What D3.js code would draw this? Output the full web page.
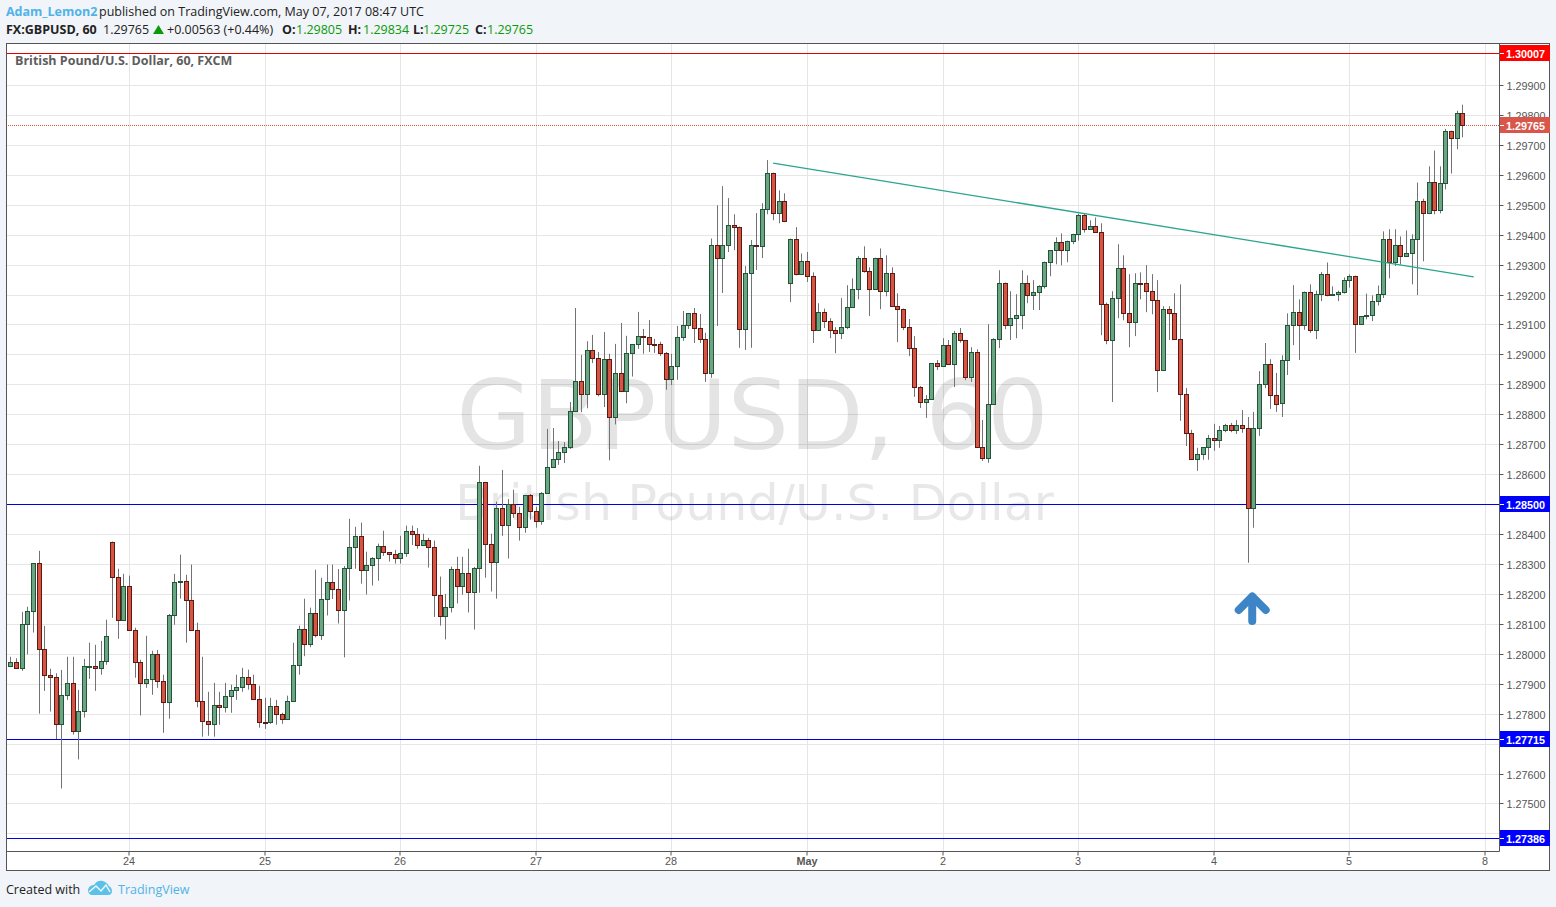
<!DOCTYPE html>
<html>
<head>
<meta charset="utf-8">
<title>GBPUSD, 60</title>
<script src="https://cdn.jsdelivr.net/npm/d3@7"></script>
<style>
  html, body { margin: 0; padding: 0; background: #f1f4f8; overflow: hidden; }
  svg { display: block; }
  text { font-family: "Open Sans", "Noto Sans", sans-serif; }
  .axis text { font-family: "Liberation Sans", Arial, sans-serif; font-size: 10.8px; fill: #555; }
  .axis path { display: none; }
  .axis line { stroke: #555; }
  .tag text { font-family: "Liberation Sans", Arial, sans-serif; font-size: 10.8px; font-weight: bold; fill: #fff; }
</style>
</head>
<body>
<div id="chart"></div>
<script>
// hourly bars, oldest first
const opens = [
  1.27958,1.27972,1.27952,1.28099,1.28142,1.28303,1.28015,1.27928,1.27922,1.27765,
  1.27862,1.27902,1.27741,1.27808,1.27959,1.27959,1.27952,1.27975,1.28375,1.28256,
  1.28112,1.28226,1.28079,1.27972,1.27902,1.27915,1.28000,1.27909,1.27839,1.28129,
  1.28241,1.28243,1.28179,1.28079,1.27842,1.27775,1.27765,1.27828,1.27822,1.27859,
  1.27879,1.27889,1.27922,1.27899,1.27849,1.27772,1.27772,1.27825,1.27798,1.27782,
  1.27842,1.27962,1.28083,1.28033,1.28137,1.28063,1.28183,1.28240,1.28217,1.28147,
  1.28287,1.28357,1.28393,1.28280,1.28297,1.28320,1.28360,1.28340,1.28333,1.28320,
  1.28337,1.28410,1.28400,1.28363,1.28380,1.28357,1.28197,1.28127,1.28157,1.28283,
  1.28227,1.28270,1.28207,1.28287,1.28573,1.28367,1.28307,1.28487,1.28430,1.28500,
  1.28470,1.28423,1.28530,1.28477,1.28443,1.28537,1.28624,1.28651,1.28674,1.28691,
  1.28811,1.28911,1.28867,1.29014,1.28987,1.28867,1.28984,1.28791,1.28937,1.28877,
  1.29004,1.29034,1.29061,1.29057,1.29034,1.29034,1.29004,1.28917,1.28961,1.29057,
  1.29097,1.29137,1.29087,1.29051,1.28937,1.29367,1.29321,1.29364,1.29431,1.29427,
  1.29084,1.29271,1.29367,1.29361,1.29487,1.29607,1.29471,1.29511,1.29237,1.29384,
  1.29267,1.29311,1.29263,1.29080,1.29143,1.29113,1.29080,1.29073,1.29090,1.29157,
  1.29220,1.29323,1.29280,1.29220,1.29323,1.29213,1.29273,1.29160,1.29153,1.29093,
  1.29020,1.28890,1.28840,1.28850,1.28970,1.28960,1.29033,1.28967,1.29073,1.29047,
  1.28923,1.29007,1.28690,1.28653,1.28833,1.29050,1.29240,1.29097,1.29120,1.29130,
  1.29240,1.29197,1.29210,1.29227,1.29310,1.29347,1.29377,1.29347,1.29380,1.29403,
  1.29467,1.29420,1.29430,1.29410,1.29167,1.29047,1.29190,1.29290,1.29137,1.29107,
  1.29240,1.29237,1.29213,1.29180,1.28947,1.29150,1.29137,1.29053,1.28867,1.28737,
  1.28650,1.28667,1.28690,1.28720,1.28713,1.28747,1.28763,1.28747,1.28763,1.28753,
  1.28487,1.28753,1.28900,1.28967,1.28863,1.28837,1.28980,1.29097,1.29140,1.29097,
  1.29207,1.29080,1.29203,1.29270,1.29200,1.29203,1.29210,1.29250,1.29263,1.29103,
  1.29127,1.29130,1.29177,1.29203,1.29387,1.29310,1.29367,1.29327,1.29337,1.29387,
  1.29513,1.29473,1.29577,1.29483,1.29573,1.29747,1.29723,1.29805
];
const highs = [
  1.27990,1.27985,1.28140,1.28157,1.28303,1.28344,1.28093,1.27950,1.27935,1.27946,
  1.27990,1.27990,1.27879,1.27983,1.28037,1.28030,1.28043,1.28114,1.28375,1.28284,
  1.28267,1.28261,1.28087,1.27980,1.28060,1.28010,1.28013,1.27930,1.28133,1.28267,
  1.28331,1.28264,1.28298,1.28104,1.27990,1.27873,1.27903,1.27873,1.27903,1.27897,
  1.27930,1.27953,1.27947,1.27930,1.27893,1.27853,1.27853,1.27846,1.27803,1.27860,
  1.28037,1.28094,1.28184,1.28154,1.28281,1.28254,1.28298,1.28298,1.28283,1.28293,
  1.28451,1.28424,1.28438,1.28341,1.28323,1.28368,1.28411,1.28340,1.28347,1.28394,
  1.28428,1.28428,1.28420,1.28401,1.28387,1.28378,1.28258,1.28200,1.28291,1.28324,
  1.28324,1.28351,1.28290,1.28628,1.28573,1.28401,1.28508,1.28614,1.28517,1.28548,
  1.28491,1.28530,1.28534,1.28491,1.28540,1.28751,1.28754,1.28711,1.28707,1.28841,
  1.29155,1.28998,1.29044,1.29065,1.29008,1.29075,1.29002,1.29035,1.29105,1.29062,
  1.29034,1.29142,1.29085,1.29115,1.29052,1.29042,1.29008,1.29002,1.29095,1.29145,
  1.29137,1.29155,1.29135,1.29072,1.29387,1.29498,1.29562,1.29522,1.29468,1.29427,
  1.29295,1.29382,1.29472,1.29505,1.29649,1.29607,1.29548,1.29538,1.29387,1.29425,
  1.29337,1.29342,1.29274,1.29171,1.29153,1.29121,1.29091,1.29188,1.29231,1.29254,
  1.29328,1.29361,1.29291,1.29323,1.29354,1.29331,1.29291,1.29204,1.29153,1.29118,
  1.29061,1.28894,1.28864,1.28970,1.28981,1.29054,1.29048,1.29078,1.29088,1.29047,
  1.29024,1.29017,1.28781,1.29101,1.29054,1.29281,1.29240,1.29211,1.29201,1.29281,
  1.29264,1.29248,1.29231,1.29310,1.29347,1.29391,1.29404,1.29380,1.29403,1.29470,
  1.29470,1.29448,1.29457,1.29438,1.29173,1.29211,1.29368,1.29331,1.29268,1.29271,
  1.29274,1.29298,1.29268,1.29248,1.29161,1.29161,1.29204,1.29234,1.28888,1.28748,
  1.28688,1.28690,1.28731,1.28768,1.28761,1.28768,1.28771,1.28781,1.28814,1.28791,
  1.28808,1.28944,1.29038,1.28984,1.28938,1.28997,1.29137,1.29231,1.29184,1.29210,
  1.29234,1.29213,1.29275,1.29307,1.29227,1.29213,1.29257,1.29267,1.29263,1.29127,
  1.29203,1.29197,1.29230,1.29411,1.29418,1.29418,1.29394,1.29414,1.29401,1.29574,
  1.29520,1.29628,1.29681,1.29628,1.29753,1.29747,1.29814,1.29834
];
const lows = [
  1.27958,1.27952,1.27943,1.27998,1.28071,1.27800,1.27876,1.27807,1.27715,1.27550,
  1.27846,1.27730,1.27647,1.27787,1.27916,1.27876,1.27930,1.27963,1.28120,1.28050,
  1.28112,1.28079,1.27920,1.27794,1.27886,1.27863,1.27886,1.27736,1.27783,1.28097,
  1.28184,1.28037,1.28079,1.27821,1.27723,1.27726,1.27723,1.27763,1.27804,1.27803,
  1.27846,1.27873,1.27880,1.27849,1.27753,1.27749,1.27766,1.27763,1.27766,1.27782,
  1.27842,1.27930,1.27992,1.28022,1.28055,1.28046,1.28128,1.28183,1.28101,1.27988,
  1.28178,1.28284,1.28234,1.28198,1.28228,1.28244,1.28327,1.28308,1.28301,1.28301,
  1.28324,1.28363,1.28351,1.28363,1.28288,1.28123,1.28094,1.28048,1.28138,1.28168,
  1.28197,1.28138,1.28081,1.28204,1.28254,1.28208,1.28184,1.28394,1.28318,1.28454,
  1.28378,1.28404,1.28448,1.28421,1.28431,1.28537,1.28624,1.28631,1.28637,1.28684,
  1.28811,1.28807,1.28820,1.28971,1.28860,1.28824,1.28646,1.28766,1.28874,1.28837,
  1.28926,1.29018,1.29002,1.29008,1.29005,1.28995,1.28882,1.28898,1.28915,1.29045,
  1.29085,1.29038,1.29038,1.28908,1.28922,1.29095,1.29205,1.29342,1.29348,1.29022,
  1.29015,1.29022,1.29282,1.29322,1.29468,1.29448,1.29438,1.29442,1.29175,1.29264,
  1.29267,1.29242,1.29038,1.29080,1.29088,1.29054,1.29004,1.29051,1.29084,1.29157,
  1.29184,1.29273,1.29128,1.29220,1.29151,1.29194,1.29160,1.29041,1.29081,1.28994,
  1.28858,1.28821,1.28788,1.28850,1.28948,1.28960,1.28967,1.28891,1.29039,1.28914,
  1.28908,1.28690,1.28644,1.28638,1.28833,1.29021,1.29084,1.29048,1.29054,1.29084,
  1.29171,1.29148,1.29148,1.29220,1.29261,1.29301,1.29298,1.29308,1.29368,1.29380,
  1.29407,1.29420,1.29410,1.29064,1.29034,1.28841,1.29121,1.29114,1.29024,1.29061,
  1.29184,1.29141,1.29134,1.28874,1.28947,1.29048,1.29048,1.28778,1.28694,1.28650,
  1.28611,1.28648,1.28648,1.28678,1.28688,1.28740,1.28740,1.28734,1.28738,1.28304,
  1.28421,1.28728,1.28887,1.28818,1.28808,1.28791,1.28931,1.29031,1.28981,1.29082,
  1.29072,1.29051,1.29178,1.29194,1.29200,1.29178,1.29203,1.29223,1.29005,1.29103,
  1.29117,1.29111,1.29163,1.29188,1.29254,1.29295,1.29300,1.29327,1.29234,1.29198,
  1.29311,1.29473,1.29468,1.29471,1.29551,1.29604,1.29685,1.29725
];
const closes = [
  1.27972,1.27952,1.28099,1.28142,1.28303,1.28015,1.27928,1.27922,1.27765,1.27862,
  1.27902,1.27741,1.27808,1.27959,1.27960,1.27952,1.27975,1.28059,1.28256,1.28112,
  1.28226,1.28079,1.27972,1.27902,1.27915,1.28000,1.27909,1.27839,1.28129,1.28240,
  1.28243,1.28179,1.28079,1.27842,1.27775,1.27765,1.27828,1.27822,1.27859,1.27879,
  1.27889,1.27922,1.27899,1.27849,1.27772,1.27771,1.27825,1.27798,1.27782,1.27842,
  1.27962,1.28083,1.28033,1.28137,1.28063,1.28183,1.28240,1.28217,1.28147,1.28287,
  1.28357,1.28393,1.28280,1.28297,1.28320,1.28360,1.28340,1.28333,1.28320,1.28337,
  1.28410,1.28400,1.28363,1.28380,1.28357,1.28197,1.28127,1.28157,1.28283,1.28227,
  1.28270,1.28207,1.28287,1.28573,1.28367,1.28307,1.28487,1.28430,1.28500,1.28470,
  1.28423,1.28530,1.28477,1.28443,1.28537,1.28623,1.28651,1.28674,1.28691,1.28811,
  1.28911,1.28867,1.29014,1.28987,1.28867,1.28984,1.28791,1.28937,1.28877,1.29004,
  1.29034,1.29061,1.29057,1.29034,1.29033,1.29004,1.28917,1.28961,1.29057,1.29097,
  1.29137,1.29087,1.29051,1.28937,1.29367,1.29321,1.29364,1.29431,1.29427,1.29084,
  1.29271,1.29367,1.29361,1.29487,1.29607,1.29471,1.29511,1.29447,1.29384,1.29267,
  1.29311,1.29263,1.29080,1.29143,1.29113,1.29080,1.29073,1.29090,1.29157,1.29220,
  1.29323,1.29280,1.29220,1.29323,1.29213,1.29273,1.29160,1.29153,1.29093,1.29020,
  1.28890,1.28840,1.28850,1.28970,1.28960,1.29033,1.28967,1.29073,1.29047,1.28923,
  1.29007,1.28690,1.28653,1.28833,1.29050,1.29240,1.29097,1.29120,1.29130,1.29240,
  1.29197,1.29210,1.29227,1.29310,1.29347,1.29377,1.29347,1.29380,1.29403,1.29467,
  1.29420,1.29430,1.29410,1.29167,1.29047,1.29190,1.29290,1.29137,1.29107,1.29240,
  1.29237,1.29213,1.29180,1.28947,1.29150,1.29137,1.29053,1.28867,1.28737,1.28650,
  1.28667,1.28690,1.28720,1.28713,1.28747,1.28763,1.28747,1.28763,1.28753,1.28487,
  1.28753,1.28900,1.28967,1.28863,1.28833,1.28980,1.29097,1.29140,1.29097,1.29207,
  1.29080,1.29203,1.29270,1.29200,1.29203,1.29210,1.29250,1.29263,1.29103,1.29127,
  1.29130,1.29177,1.29203,1.29387,1.29310,1.29367,1.29327,1.29337,1.29387,1.29513,
  1.29473,1.29577,1.29483,1.29573,1.29747,1.29723,1.29805,1.29765
];

const dayTickBars = [21, 45, 69, 93, 117, 141, 165, 189, 213, 237, 261];
const dayTickLabels = ["24", "25", "26", "27", "28", "May", "2", "3", "4", "5", "8"];
const priceTicks = [1.274, 1.275, 1.276, 1.277, 1.278, 1.279, 1.280, 1.281, 1.282, 1.283, 1.284, 1.285, 1.286,
  1.287, 1.288, 1.289, 1.290, 1.291, 1.292, 1.293, 1.294, 1.295, 1.296, 1.297, 1.298, 1.299];
// these three sit behind a price tag, so only their grid lines show
const hiddenPriceLabels = [1.274, 1.277, 1.285];

// horizontal drawings with their price tag colours
const levelPrices = [1.30007, 1.285, 1.27715, 1.27386];
const levelColors = ["#e00000", "#0000e6", "#0000e6", "#0000e6"];
const levelTagColors = ["#ff0000", "#0000ff", "#0000ff", "#0000ff"];
const lastPrice = 1.29765;

const trendBars = [135, 259];
const trendPrices = [1.29639, 1.29259];
const arrowBar = 219.8;
const arrowPrice = 1.28203;

const width = 1556, height = 907;
const pane = { left: 6, top: 43, right: 1499, bottom: 851, outerRight: 1549, outerBottom: 870 };

const x = d3.scaleLinear().domain([0, 261]).range([10.35, 1485]);
const y = d3.scaleLinear().domain([1.27386, 1.30007]).range([837.6, 52.9]);

const svg = d3.select("#chart").append("svg")
  .attr("width", width)
  .attr("height", height);

svg.append("clipPath").attr("id", "pane-clip")
  .append("rect")
  .attr("x", pane.left).attr("y", pane.top)
  .attr("width", pane.right - pane.left).attr("height", pane.bottom - pane.top);

// chart background
svg.append("rect")
  .attr("x", pane.left + 0.5).attr("y", pane.top + 0.5)
  .attr("width", pane.outerRight - pane.left).attr("height", pane.outerBottom - pane.top)
  .attr("fill", "#fff");

const plot = svg.append("g").attr("clip-path", "url(#pane-clip)");

// grid
plot.selectAll(".grid-h").data(priceTicks).join("line")
  .attr("x1", pane.left).attr("x2", pane.right)
  .attr("y1", d => Math.round(y(d)) + 0.5).attr("y2", d => Math.round(y(d)) + 0.5)
  .attr("stroke", "#e6e6e6");
plot.selectAll(".grid-v").data(dayTickBars).join("line")
  .attr("y1", pane.top).attr("y2", pane.bottom)
  .attr("x1", d => Math.round(x(d)) + 0.5).attr("x2", d => Math.round(x(d)) + 0.5)
  .attr("stroke", "#e6e6e6");

// watermark
plot.append("text")
  .attr("x", 752.5).attr("y", 449)
  .attr("text-anchor", "middle")
  .style("font-family", "'DejaVu Sans', sans-serif")
  .style("font-size", "97px")
  .attr("fill", "#000").attr("fill-opacity", 0.105)
  .text("GBPUSD, 60");
plot.append("text")
  .attr("x", 754.5).attr("y", 520)
  .attr("text-anchor", "middle")
  .style("font-family", "'DejaVu Sans', sans-serif")
  .style("font-size", "49px")
  .attr("fill", "#000").attr("fill-opacity", 0.09)
  .text("British Pound/U.S. Dollar");

// levels sit under the candles
plot.selectAll(".level").data(levelPrices).join("line")
  .attr("x1", pane.left).attr("x2", pane.right)
  .attr("y1", d => Math.round(y(d)) + 0.5).attr("y2", d => Math.round(y(d)) + 0.5)
  .attr("stroke", (d, i) => levelColors[i]);

plot.append("line")
  .attr("x1", pane.left).attr("x2", pane.right)
  .attr("y1", Math.round(y(lastPrice)) + 0.5).attr("y2", Math.round(y(lastPrice)) + 0.5)
  .attr("stroke", "#d75442")
  .attr("stroke-dasharray", "1 1");

// candles
const upFill = "#6ba583", downFill = "#d75442";
const upBorder = "#225437", downBorder = "#5b1a13";
const bars = d3.range(opens.length);

plot.selectAll(".wick").data(bars).join("line")
  .attr("x1", i => Math.round(x(i)) + 0.5).attr("x2", i => Math.round(x(i)) + 0.5)
  .attr("y1", i => y(highs[i])).attr("y2", i => y(lows[i]))
  .attr("stroke", "#737375");

plot.selectAll(".body").data(bars).join("rect")
  .attr("x", i => Math.round(x(i)) - 1.5)
  .attr("width", 4)
  .attr("y", i => Math.round(y(Math.max(opens[i], closes[i]))) + 0.5)
  .attr("height", i => Math.max(1, Math.round(y(Math.min(opens[i], closes[i]))) - Math.round(y(Math.max(opens[i], closes[i])))))
  .attr("fill", i => closes[i] >= opens[i] ? upFill : downFill)
  .attr("stroke", i => closes[i] >= opens[i] ? upBorder : downBorder);

// trend line
plot.append("line")
  .attr("x1", x(trendBars[0])).attr("y1", y(trendPrices[0]))
  .attr("x2", x(trendBars[1])).attr("y2", y(trendPrices[1]))
  .attr("stroke", "#2ba58f")
  .attr("stroke-width", 1.3);

// up arrow under the pin bar
const arrow = plot.append("g")
  .attr("transform", `translate(${x(arrowBar)},${y(arrowPrice)})`)
  .attr("fill", "none")
  .attr("stroke", "#3d85c6")
  .attr("stroke-width", 8)
  .attr("stroke-linecap", "round")
  .attr("stroke-linejoin", "round");
arrow.append("path").attr("d", "M0,4V28");
arrow.append("path").attr("d", "M-13.5,17L0,3.5L13.5,17");

// axes
const yAxis = d3.axisRight(y)
  .tickValues(priceTicks.filter(d => !hiddenPriceLabels.includes(d)))
  .tickFormat(d3.format(".5f"))
  .tickSize(4)
  .tickPadding(3);
svg.append("g").attr("class", "axis y-axis")
  .attr("transform", `translate(${pane.right + 0.5},0)`)
  .call(yAxis);
svg.selectAll(".y-axis .tick").attr("transform", d => `translate(0,${Math.round(y(d)) + 0.5})`);
svg.selectAll(".y-axis text").attr("dy", "0.42em");

const xAxis = d3.axisBottom(x)
  .tickValues(dayTickBars)
  .tickFormat((d, i) => dayTickLabels[i])
  .tickSize(4)
  .tickPadding(2);
svg.append("g").attr("class", "axis x-axis")
  .attr("transform", `translate(0,${pane.bottom + 0.5})`)
  .call(xAxis);
svg.selectAll(".x-axis .tick").attr("transform", d => `translate(${Math.round(x(d))},0)`);
svg.selectAll(".x-axis text").filter(d => d === 141).style("font-weight", "bold");

// frame
svg.append("rect")
  .attr("x", pane.left + 0.5).attr("y", pane.top + 0.5)
  .attr("width", pane.outerRight - pane.left).attr("height", pane.outerBottom - pane.top)
  .attr("fill", "none").attr("stroke", "#555");
svg.append("line")
  .attr("x1", pane.right + 0.5).attr("x2", pane.right + 0.5)
  .attr("y1", pane.top).attr("y2", pane.bottom + 0.5)
  .attr("stroke", "#555");
svg.append("line")
  .attr("x1", pane.left).attr("x2", pane.right + 0.5)
  .attr("y1", pane.bottom + 0.5).attr("y2", pane.bottom + 0.5)
  .attr("stroke", "#555");

// price tags
function priceTag(price, fill) {
  const g = svg.append("g").attr("class", "tag")
    .attr("transform", `translate(${pane.right + 1},${Math.round(y(price))})`);
  g.append("rect").attr("x", 0).attr("y", -8).attr("width", 50).attr("height", 16).attr("fill", fill);
  g.append("line").attr("x1", 0).attr("x2", 4).attr("y1", 0.5).attr("y2", 0.5).attr("stroke", "#fff");
  g.append("text").attr("x", 6).attr("y", 4.5).text(d3.format(".5f")(price));
}
levelPrices.forEach((p, i) => priceTag(p, levelTagColors[i]));
priceTag(lastPrice, "#d9574a");

// pane title
svg.append("text")
  .attr("x", 15).attr("y", 65)
  .style("font-size", "12.5px").style("font-weight", "bold")
  .attr("fill", "#5d5d5d")
  .text("British Pound/U.S. Dollar, 60, FXCM");

// header
function headerText(px, py, str, color, bold) {
  svg.append("text")
    .attr("x", px).attr("y", py)
    .style("font-size", "12.5px")
    .style("font-weight", bold ? "bold" : "normal")
    .attr("fill", color)
    .text(str);
}
headerText(6, 16, "Adam_Lemon2", "#4fb3e8", true);
headerText(99, 16, "published on TradingView.com, May 07, 2017 08:47 UTC", "#222", false);
headerText(6, 34, "FX:GBPUSD, 60", "#222", true);
headerText(103, 34, "1.29765", "#222", false);
svg.append("path").attr("d", "M153,34L158.5,25L164,34Z").attr("fill", "#0a9a0a");
headerText(167, 34, "+0.00563 (+0.44%)", "#222", false);
const ohlcLabels = ["O:", "H:", "L:", "C:"];
const ohlcValues = ["1.29805", "1.29834", "1.29725", "1.29765"];
const ohlcLabelX = [282, 348, 413, 475];
const ohlcValueX = [296, 363, 423, 487];
ohlcLabels.forEach((l, i) => {
  headerText(ohlcLabelX[i], 34, l, "#222", true);
  headerText(ohlcValueX[i], 34, ohlcValues[i], "#0a9a0a", false);
});

// footer
headerText(6, 894, "Created with", "#222", false);
svg.append("path")
  .attr("d", "M88,891C88,887 91,885 94,885C96,881 100,880 103,881C106,882 108,884 109,886C111,887 112,889 112,891C112,894 110,895 108,895L92,895C90,895 88,893 88,891Z")
  .attr("fill", "#5cc1e8");
svg.append("path")
  .attr("d", "M89,892L96,886L101,891L106,885L110,892")
  .attr("fill", "none").attr("stroke", "#f1f4f8").attr("stroke-width", 1.5);
headerText(118, 894, "TradingView", "#4fb3e8", false);
</script>
</body>
</html>
